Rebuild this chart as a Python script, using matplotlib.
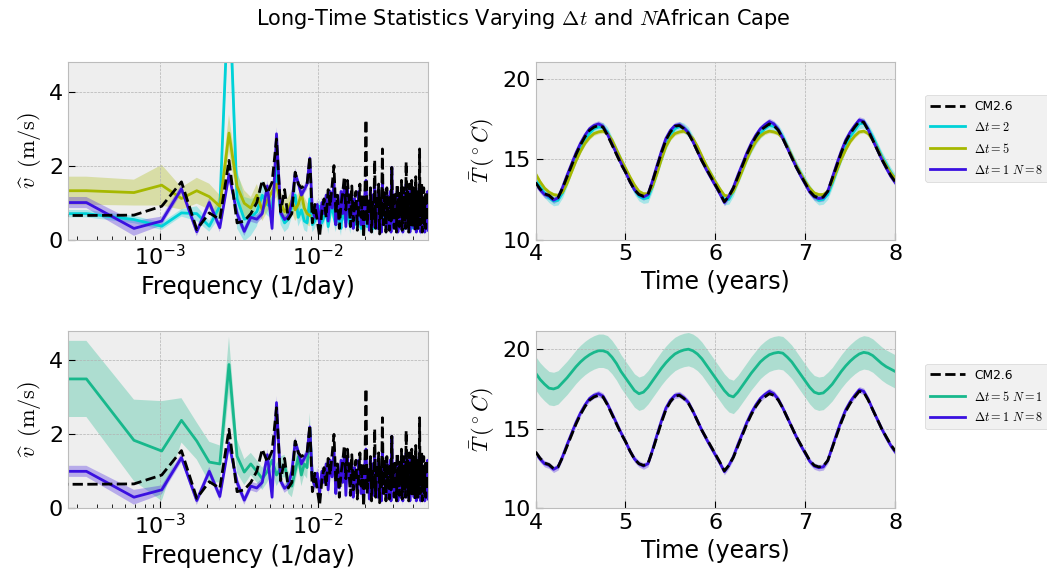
import numpy as np
import matplotlib
matplotlib.use("Agg")
import matplotlib.pyplot as plt

# ---- spectra: frequency index k, frequency = k / record_days ----
record_days = 2920

cm26_spec = [0.65, 0.65, 0.66, 0.90, 1.56, 0.27, 0.72, 0.54, 2.14, 0.45, 0.50, 0.70, 1.00, 1.60,
             1.25, 1.55, 2.72, 0.75, 1.35, 0.55, 0.70, 1.82, 1.50, 1.40, 1.45, 1.50, 2.25,
             0.45, 0.95, 0.50, 0.08, 0.75, 1.10, 0.60, 1.35, 0.90, 1.45,
             2.00, 0.70, 1.20, 0.30, 0.95, 1.25, 1.70, 0.80, 1.60, 1.10,
             0.35, 1.45, 0.50, 1.00, 1.30, 0.25, 0.90, 1.50, 0.60, 1.20,
             0.05, 0.90, 3.24, 0.40, 1.10, 0.70, 1.40, 0.20, 1.00, 0.50,
             2.15, 0.30, 1.20, 0.80, 1.50, 0.15, 1.10, 0.60, 2.45, 0.40,
             1.30, 0.90, 0.20, 1.40, 0.70, 1.10, 0.25, 1.20, 0.50, 1.95,
             0.60, 1.00, 0.30, 1.30, 0.80, 0.20, 1.50, 0.60, 1.10, 0.35,
             1.25, 0.70, 1.60, 0.25, 0.90, 1.40, 0.50, 1.10, 0.30, 2.10,
             0.60, 1.30, 0.80, 0.20, 1.50, 0.70, 1.20, 0.40, 1.60, 0.90,
             0.30, 1.40, 0.60, 1.10, 0.25, 1.70, 0.50, 1.20, 0.80, 0.30,
             1.30, 0.70, 2.45, 0.40, 1.00, 0.60, 1.50, 0.20, 1.10, 0.70,
             1.40, 0.35, 0.90, 1.20, 0.30, 0.80, 1.30, 0.50, 0.90, 0.60]

dt1n8_spec = [1.00, 1.00, 0.30, 0.50, 1.37, 0.21, 1.00, 0.32, 1.76, 0.70, 0.22, 0.60, 0.55, 0.70,
              1.45, 0.30, 2.86, 0.73, 0.54, 0.62, 1.00, 1.78, 1.53, 1.20, 1.35, 1.50, 2.20,
              0.80, 0.60, 0.95, 0.40, 1.00, 0.70, 1.20, 0.50, 1.30, 0.85,
              1.60, 0.40, 1.00, 0.55, 1.30, 0.70, 1.50, 0.35, 1.40, 0.90,
              0.60, 1.20, 0.30, 1.10, 0.70, 0.45, 1.30, 1.10, 0.40, 1.00,
              0.30, 1.20, 1.60, 0.70, 0.90, 0.25, 1.30, 0.50, 1.20, 0.35,
              1.50, 0.60, 1.00, 0.30, 1.30, 0.50, 0.90, 0.20, 1.60, 0.70,
              1.10, 0.40, 0.80, 1.20, 0.30, 1.00, 0.60, 1.30, 0.20, 1.95,
              0.80, 0.50, 1.20, 0.40, 1.00, 0.60, 1.30, 0.20, 0.90, 0.70,
              1.10, 0.30, 1.40, 0.60, 0.20, 1.20, 0.80, 0.40, 1.00, 1.50,
              0.30, 1.10, 0.50, 0.90, 1.30, 0.20, 1.00, 0.70, 1.40, 0.40,
              0.90, 1.20, 0.30, 0.80, 0.60, 1.40, 0.20, 1.00, 0.50, 1.10,
              0.70, 0.30, 1.50, 0.60, 0.20, 1.00, 1.20, 0.40, 0.80, 0.30,
              1.10, 0.60, 0.20, 1.00, 0.70, 0.30, 1.20, 0.40, 1.30, 0.25]
dt1n8_spec_sd = [0.15, 0.15, 0.20, 0.12, 0.12, 0.12, 0.12, 0.12, 0.15, 0.15, 0.12, 0.12, 0.12, 0.12,
                 0.15, 0.12, 0.18, 0.12, 0.12, 0.12, 0.12, 0.15, 0.15, 0.12, 0.12, 0.15, 0.15] + [0.15] * 120

dt2_spec = [0.70, 0.70, 0.54, 0.36, 0.72, 0.70, 0.36, 0.90, 7.00, 1.10, 0.55, 0.60, 0.75, 1.20,
            0.95, 0.85, 1.95, 0.70, 0.45, 0.55, 0.90, 1.20, 0.60, 0.80, 0.50, 0.45, 1.10,
            0.40, 0.50, 0.70, 0.90, 0.45, 0.60, 0.80, 0.35, 0.70, 0.95,
            0.60, 0.40, 0.75, 0.50, 0.30, 0.85, 0.60, 0.45, 0.90, 0.55,
            0.35, 0.70, 0.50, 0.80, 0.40, 0.60, 0.95, 0.50, 0.30, 0.70,
            0.45, 0.85, 0.60, 0.35, 0.75, 0.50, 0.90, 0.40, 0.65, 0.30,
            0.80, 0.55, 0.40, 0.70, 0.95, 0.50, 0.35, 0.75, 0.60, 0.45,
            0.85, 0.40, 0.65, 0.30, 0.70, 0.90, 0.50, 0.60, 0.35, 0.80,
            0.55, 0.40, 0.75, 0.95, 0.45, 0.65, 0.30, 0.70, 0.50, 0.85,
            0.40, 0.60, 0.90, 0.35, 0.70, 0.50, 0.80, 0.30, 0.65, 0.55,
            0.75, 0.40, 0.90, 0.50, 0.35, 0.70, 0.60, 0.85, 0.30, 0.65,
            0.50, 0.80, 0.40, 0.70, 0.95, 0.45, 0.60, 0.35, 0.75, 0.55,
            0.40, 0.85, 0.60, 0.30, 0.70, 0.50, 0.90, 0.45, 0.65, 0.35,
            0.75, 0.55, 0.40, 0.80, 0.60, 0.30, 0.70, 0.50, 0.85, 0.45]
dt2_spec_sd = [0.10, 0.10, 0.10, 0.10, 0.10, 0.20, 0.15, 0.30, 1.00, 0.80, 0.60, 0.50, 0.40, 0.40,
               0.30, 0.30, 0.40, 0.30, 0.25, 0.25, 0.30, 0.30, 0.25, 0.25, 0.25, 0.25, 0.30] + [0.20] * 120

dt5_spec = [1.32, 1.32, 1.27, 1.47, 1.11, 1.32, 1.16, 0.90, 2.88, 1.44, 0.98, 0.85, 1.20, 0.80,
            1.05, 1.30, 1.50, 1.00, 0.75, 0.85, 1.05, 0.80, 0.95, 1.25, 0.85, 0.70, 0.65]
dt5_spec_sd = [0.38, 0.38, 0.35, 0.55, 0.30, 0.35, 0.35, 0.30, 0.50, 0.35, 0.35, 0.30, 0.30, 0.30,
               0.30, 0.30, 0.35, 0.30, 0.30, 0.30, 0.30, 0.30, 0.30, 0.30, 0.30, 0.30, 0.30]

dt5n1_spec = [3.50, 3.50, 1.84, 1.55, 2.38, 1.82, 1.25, 1.20, 3.89, 1.41, 0.98, 1.20, 1.00, 0.80,
              1.00, 1.30, 0.90, 1.10, 1.15, 0.70, 0.60, 1.00, 1.40, 0.90, 1.20, 1.10, 2.18, 0.80]
dt5n1_spec_sd = [1.03, 1.03, 1.10, 1.35, 0.60, 0.50, 0.55, 0.50, 0.75, 0.45, 0.35, 0.30, 0.30, 0.30,
                 0.30, 0.30, 0.30, 0.30, 0.30, 0.30, 0.30, 0.30, 0.30, 0.30, 0.30, 0.30, 0.40, 0.30]

# ---- temperature, years 4 to 8 every 0.05 yr ----
cm26_temp = [13.55, 13.15, 12.85, 12.75, 12.5, 12.6, 13.2, 13.9, 14.6, 15.3, 15.9, 16.4, 16.8, 17.0,
             17.1, 17.0, 16.5, 15.9, 15.3, 14.7, 14.2, 13.6, 13.1, 12.8, 12.7, 12.8, 13.6, 14.5,
             15.4, 16.2, 16.7, 17.05, 17.1, 16.9, 16.6, 16.1, 15.5, 14.9, 14.4, 13.9, 13.4, 12.9,
             12.35, 12.7, 13.2, 13.9, 14.6, 15.3, 15.9, 16.4, 16.8, 17.0, 17.2, 17.1, 16.8, 16.3,
             15.7, 15.1, 14.5, 14.0, 13.5, 13.0, 12.7, 12.6, 12.65, 13.0, 13.8, 14.6, 15.4, 16.1,
             16.6, 17.0, 17.35, 17.3, 16.8, 16.2, 15.6, 15.0, 14.5, 14.0, 13.6]
dt1n8_temp = [13.5, 13.1, 12.8, 12.7, 12.45, 12.6, 13.25, 14.0, 14.7, 15.4, 16.0, 16.5, 16.9, 17.1,
              17.2, 17.05, 16.55, 15.95, 15.35, 14.75, 14.2, 13.6, 13.1, 12.8, 12.65, 12.8, 13.65,
              14.6, 15.5, 16.3, 16.8, 17.1, 17.15, 16.95, 16.65, 16.1, 15.5, 14.9, 14.35, 13.85,
              13.35, 12.85, 12.3, 12.7, 13.25, 14.0, 14.7, 15.4, 16.0, 16.5, 16.9, 17.15, 17.35,
              17.2, 16.85, 16.3, 15.7, 15.1, 14.5, 13.95, 13.45, 12.95, 12.65, 12.55, 12.6, 13.0,
              13.85, 14.7, 15.5, 16.2, 16.7, 17.1, 17.45, 17.35, 16.85, 16.2, 15.6, 15.0, 14.45,
              13.95, 13.55]
dt2_temp = [13.7, 13.3, 12.9, 12.6, 12.4, 12.45, 12.9, 13.6, 14.4, 15.1, 15.7, 16.2, 16.6, 16.9,
            17.0, 17.0, 16.7, 16.1, 15.5, 14.9, 14.3, 13.7, 13.1, 12.7, 12.55, 12.6, 13.3, 14.2,
            15.1, 15.9, 16.5, 16.9, 17.05, 16.95, 16.7, 16.2, 15.6, 15.0, 14.5, 14.0, 13.5, 13.0,
            12.45, 12.5, 13.0, 13.7, 14.4, 15.1, 15.7, 16.2, 16.6, 16.9, 17.1, 17.05, 16.85, 16.4,
            15.8, 15.2, 14.6, 14.1, 13.6, 13.1, 12.7, 12.45, 12.5, 12.8, 13.5, 14.3, 15.1, 15.8,
            16.4, 16.8, 17.2, 17.25, 16.9, 16.4, 15.8, 15.2, 14.7, 14.2, 13.8]
dt5_temp = [14.1, 13.6, 13.2, 12.95, 12.8, 12.75, 12.95, 13.5, 14.2, 14.9, 15.5, 16.0, 16.35, 16.6,
            16.7, 16.75, 16.6, 16.2, 15.6, 15.0, 14.45, 13.9, 13.4, 13.0, 12.85, 12.85, 13.3, 14.1,
            15.0, 15.8, 16.3, 16.6, 16.7, 16.75, 16.6, 16.3, 15.8, 15.2, 14.6, 14.1, 13.6, 13.15,
            12.75, 12.7, 13.0, 13.6, 14.3, 15.0, 15.6, 16.1, 16.45, 16.65, 16.75, 16.7, 16.6, 16.3,
            15.8, 15.2, 14.6, 14.1, 13.6, 13.2, 12.9, 12.8, 12.8, 13.0, 13.6, 14.3, 15.0, 15.6,
            16.1, 16.45, 16.7, 16.75, 16.6, 16.2, 15.7, 15.1, 14.6, 14.15, 13.8]
dt5n1_temp = [18.5, 18.1, 17.8, 17.55, 17.5, 17.6, 17.9, 18.2, 18.55, 18.9, 19.2, 19.45, 19.65, 19.8,
              19.9, 19.9, 19.8, 19.5, 19.1, 18.6, 18.2, 17.8, 17.4, 17.2, 17.3, 17.6, 18.0, 18.4,
              18.8, 19.15, 19.45, 19.7, 19.85, 19.95, 20.0, 19.9, 19.7, 19.4, 19.0, 18.6, 18.2,
              17.8, 17.4, 17.1, 17.0, 17.3, 17.7, 18.1, 18.5, 18.85, 19.2, 19.45, 19.65, 19.75,
              19.8, 19.75, 19.5, 19.2, 18.8, 18.4, 18.0, 17.6, 17.3, 17.2, 17.25, 17.5, 17.8, 18.2,
              18.6, 18.95, 19.25, 19.5, 19.7, 19.8, 19.75, 19.6, 19.35, 19.1, 18.9, 18.75, 18.6]
temp_sd = {"dt1n8": 0.2, "dt2": 0.3, "dt5": 0.12, "dt5n1": 1.05}

c_black = "black"
c_dt2 = "#00d2d8"
c_dt5 = "#a6b800"
c_dt1n8 = "#3a10e0"
c_dt5n1 = "#18b88c"

plt.style.use("bmh")
plt.rcParams["xtick.direction"] = "in"
plt.rcParams["ytick.direction"] = "in"


def freqs(values):
    return np.arange(len(values)) / record_days


def years(values):
    return np.linspace(4, 8, len(values))


def spec_line(ax, values, sd, color, label):
    f = freqs(values)
    v = np.array(values)
    s = np.array(sd)
    ax.fill_between(f, v - s, v + s, color=color, alpha=0.3, lw=0)
    ax.plot(f, v, color=color, lw=2, label=label)


def temp_line(ax, values, sd, color, label):
    t = years(values)
    v = np.array(values)
    ax.fill_between(t, v - sd, v + sd, color=color, alpha=0.3, lw=0)
    ax.plot(t, v, color=color, lw=2, label=label)


fig, axes = plt.subplots(2, 2, figsize=(10.47, 5.75), dpi=100)
fig.subplots_adjust(left=0.065, right=0.855, top=0.892, bottom=0.116, wspace=0.30, hspace=0.515)

# top row: time step comparison
ax = axes[0, 0]
spec_line(ax, dt2_spec, dt2_spec_sd, c_dt2, r"$\Delta t = 2$")
spec_line(ax, dt5_spec, dt5_spec_sd, c_dt5, r"$\Delta t = 5$")
spec_line(ax, dt1n8_spec, dt1n8_spec_sd, c_dt1n8, r"$\Delta t = 1$ $N = 8$")
ax.plot(freqs(cm26_spec), cm26_spec, "--", color=c_black, lw=2, zorder=5)

ax = axes[0, 1]
ax.plot(years(cm26_temp), cm26_temp, "--", color=c_black, lw=2, zorder=5, label="CM2.6")
temp_line(ax, dt2_temp, temp_sd["dt2"], c_dt2, r"$\Delta t = 2$")
temp_line(ax, dt5_temp, temp_sd["dt5"], c_dt5, r"$\Delta t = 5$")
temp_line(ax, dt1n8_temp, temp_sd["dt1n8"], c_dt1n8, r"$\Delta t = 1$ $N = 8$")

# bottom row: ensemble size comparison
ax = axes[1, 0]
spec_line(ax, dt5n1_spec, dt5n1_spec_sd, c_dt5n1, r"$\Delta t = 5$ $N = 1$")
spec_line(ax, dt1n8_spec, dt1n8_spec_sd, c_dt1n8, r"$\Delta t = 1$ $N = 8$")
ax.plot(freqs(cm26_spec), cm26_spec, "--", color=c_black, lw=2, zorder=5)

ax = axes[1, 1]
ax.plot(years(cm26_temp), cm26_temp, "--", color=c_black, lw=2, zorder=5, label="CM2.6")
temp_line(ax, dt5n1_temp, temp_sd["dt5n1"], c_dt5n1, r"$\Delta t = 5$ $N = 1$")
temp_line(ax, dt1n8_temp, temp_sd["dt1n8"], c_dt1n8, r"$\Delta t = 1$ $N = 8$")

for ax in axes[:, 0]:
    ax.set_xscale("log")
    ax.set_xlim(2.62e-4, 0.0497)
    ax.set_ylim(0, 4.8)
    ax.set_yticks([0, 2, 4])
    ax.set_xlabel("Frequency (1/day)", fontsize=17)
    ax.set_ylabel(r"$\widehat{v}\;\;(\mathrm{m/s})$", fontsize=16)

for ax, top in zip(axes[:, 1], [21.05, 21.15]):
    ax.set_xlim(4, 8)
    ax.set_ylim(10, top)
    ax.set_yticks([10, 15, 20])
    ax.set_xticks([4, 5, 6, 7, 8])
    ax.set_xlabel("Time (years)", fontsize=17)
    ax.set_ylabel(r"$\bar{T}\,(^\circ C)$", fontsize=16)
    ax.legend(loc="upper left", bbox_to_anchor=(1.084, 0.815), borderaxespad=0,
              fontsize=8.8, handlelength=2.8, labelspacing=0.65)

for ax in axes.flat:
    ax.tick_params(labelsize=16, length=5)
    ax.tick_params(which="minor", length=3)

fig.suptitle(r"Long-Time Statistics Varying $\Delta t$ and $N$African Cape", fontsize=15, y=0.988)

fig.savefig("out.png", dpi=100)
